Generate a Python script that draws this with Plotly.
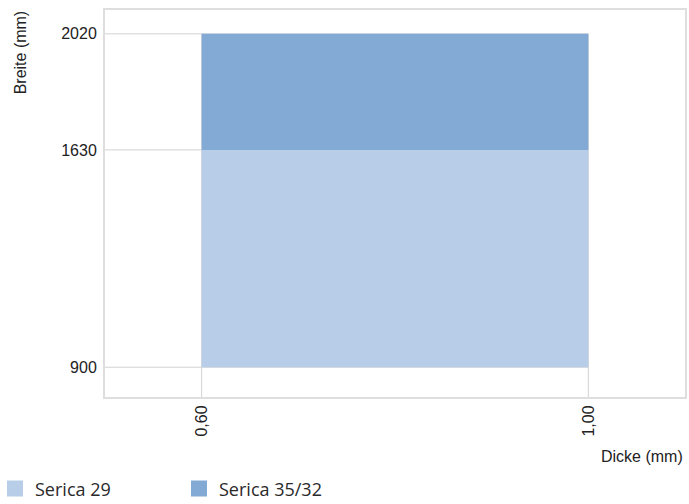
import plotly.graph_objects as go

# ---- data ----
series_names = ["Serica 29", "Serica 35/32"]
thickness = [0.60, 1.00]            # Dicke (mm): min, max
width_serica29 = [900, 1630]        # Breite (mm): min, max
width_serica3532 = [1630, 2020]     # Breite (mm): min, max
x_ticks = [0.60, 1.00]
x_ticktext = ["0,60", "1,00"]
y_ticks = [900, 1630, 2020]
y_ticktext = ["900", "1630", "2020"]
colors = ["#b8cde7", "#83a9d5"]

x_range = [0.5, 1.1]
y_range = [800, 2100]

fig = go.Figure()

def rect_trace(xr, yr, color, name):
    return go.Scatter(
        x=[xr[0], xr[1], xr[1], xr[0], xr[0]],
        y=[yr[0], yr[0], yr[1], yr[1], yr[0]],
        mode="lines", fill="toself", fillcolor=color,
        line=dict(width=0, color=color), hoverinfo="skip",
        showlegend=False, name=name,
    )

fig.add_trace(rect_trace(thickness, width_serica29, colors[0], series_names[0]))
fig.add_trace(rect_trace(thickness, width_serica3532, colors[1], series_names[1]))

# legend entries
for name, c in zip(series_names, colors):
    fig.add_trace(go.Scatter(
        x=[None], y=[None], mode="markers", name=name,
        marker=dict(symbol="square", size=18, color=c),
    ))

grid_color = "#d2d2d2"
shapes = []
ymax = max(width_serica3532)
xmax = max(thickness)
for yv in y_ticks:
    shapes.append(dict(type="line", xref="x", yref="y", x0=x_range[0], x1=xmax,
                       y0=yv, y1=yv, line=dict(color=grid_color, width=1), layer="below"))
for xv in x_ticks:
    shapes.append(dict(type="line", xref="x", yref="y", x0=xv, x1=xv,
                       y0=y_range[0], y1=ymax, line=dict(color=grid_color, width=1), layer="below"))

axis_font = dict(family="Liberation Sans, Arial, sans-serif", size=16, color="#222222")

fig.update_layout(
    width=689, height=504,
    margin=dict(l=105, r=2, t=10, b=107),
    paper_bgcolor="white", plot_bgcolor="white",
    shapes=shapes,
    xaxis=dict(range=x_range, tickvals=x_ticks, ticktext=x_ticktext, tickangle=-90,
               showgrid=False, zeroline=False, showline=True, mirror=True,
               linecolor="#dedede", linewidth=2, tickfont=axis_font,
               ticklabelstandoff=0, fixedrange=True),
    yaxis=dict(range=y_range, tickvals=y_ticks, ticktext=y_ticktext,
               showgrid=False, zeroline=False, showline=True, mirror=True,
               linecolor="#dedede", linewidth=2, tickfont=axis_font,
               ticklabelstandoff=3, fixedrange=True),
    showlegend=True,
    legend=dict(orientation="h", xref="container", yref="container", x=0, y=0.03,
                xanchor="left", yanchor="middle", indentation=-5,
                font=dict(family="Open Sans, sans-serif", size=18, color="#2a2a2a"),
                entrywidth=144, entrywidthmode="pixels", itemsizing="trace",
                traceorder="normal"),
    annotations=[
        dict(text="Breite (mm)", textangle=-90, xref="paper", yref="paper",
             x=(20 - 105) / 582, y=1.005, xanchor="center", yanchor="top",
             showarrow=False, font=axis_font),
        dict(text="Dicke (mm)", xref="paper", yref="paper",
             x=1.0, y=-0.155, xanchor="right", yanchor="middle",
             showarrow=False, font=axis_font),
    ],
)

fig.write_html("out.html", config={"displayModeBar": False},
               post_script="document.body.style.margin='0';")
